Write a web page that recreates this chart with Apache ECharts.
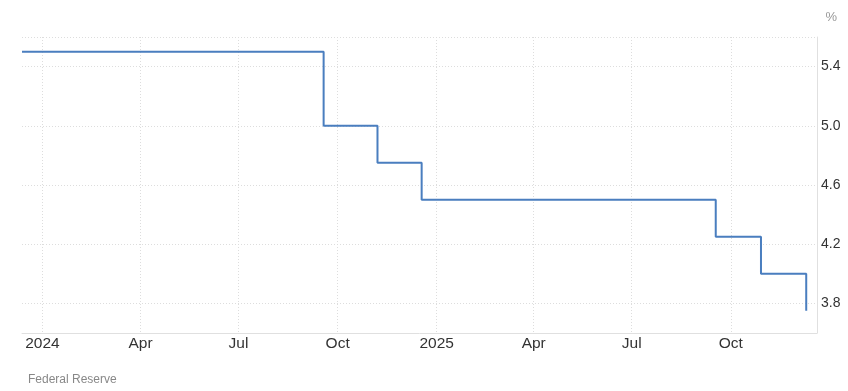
<!DOCTYPE html>
<html>
<head>
<meta charset="utf-8">
<script src="https://cdn.jsdelivr.net/npm/echarts@6/dist/echarts.min.js"></script>
<style>
html,body{margin:0;padding:0;background:#fff;}
#chart{width:848px;height:391px;}
</style>
</head>
<body>
<div id="chart"></div>
<script>
// Data: Federal funds target rate (upper bound), step changes
const changeDates = ['2023-12-13', '2024-09-18', '2024-11-07', '2024-12-18', '2025-09-17', '2025-10-29', '2025-12-10'];
const rateValues = [5.5, 5.0, 4.75, 4.5, 4.25, 4.0, 3.75];
const xTickDates = ['2024-01-01', '2024-04-01', '2024-07-01', '2024-10-01', '2025-01-01', '2025-04-01', '2025-07-01', '2025-10-01'];
const xTickLabels = ['2024', 'Apr', 'Jul', 'Oct', '2025', 'Apr', 'Jul', 'Oct'];
const yTickValues = [3.8, 4.2, 4.6, 5.0, 5.4];
const yGridTop = 5.6;
const yMin = 3.6;
const xMinDate = '2023-12-13';
const xMaxDate = '2025-12-20';

function ts(s) { const p = s.split('-').map(Number); return Date.UTC(p[0], p[1] - 1, p[2]); }

const seriesData = changeDates.map((d, i) => [ts(d), rateValues[i]]);
const xTicks = xTickDates.map(ts);
const labelMap = {};
xTicks.forEach((t, i) => { labelMap[t] = xTickLabels[i]; });

const chart = echarts.init(document.getElementById('chart'), null, { renderer: 'canvas' });
const font = 'Arial, "Liberation Sans", Helvetica, sans-serif';
chart.setOption({
  animation: false,
  backgroundColor: '#ffffff',
  textStyle: { fontFamily: font },
  title: [
    { text: '%', right: 6, top: 6, padding: 5, textStyle: { fontSize: 13, fontWeight: 'normal', color: '#999999', fontFamily: font } },
    { text: 'Federal Reserve', left: 23, top: 369, padding: 5, textStyle: { fontSize: 12, fontWeight: 'normal', color: '#888888', fontFamily: font } }
  ],
  grid: { left: 22, right: 31, top: 37, bottom: 58, containLabel: false },
  xAxis: {
    type: 'value',
    min: ts(xMinDate),
    max: ts(xMaxDate),
    axisLine: { show: true, lineStyle: { color: '#e0e0e0', width: 1 } },
    axisTick: { show: false, customValues: xTicks },
    axisLabel: {
      customValues: xTicks,
      margin: 3,
      fontSize: 15.5,
      color: '#333333',
      fontFamily: font,
      formatter: function (v) { return labelMap[v] !== undefined ? labelMap[v] : ''; }
    },
    splitLine: { show: true, lineStyle: { color: '#dddddd', type: [1, 2], width: 1 } }
  },
  yAxis: {
    type: 'value',
    position: 'right',
    min: yMin,
    max: yGridTop,
    axisLine: { show: true, lineStyle: { color: '#e0e0e0', width: 1 } },
    axisTick: { show: false, customValues: yTickValues.concat([yGridTop]) },
    axisLabel: {
      customValues: yTickValues,
      margin: 4,
      fontSize: 14,
      color: '#333333',
      fontFamily: font,
      formatter: function (v) { return v.toFixed(1); }
    },
    splitLine: { show: true, lineStyle: { color: '#dddddd', type: [1, 2], width: 1 } }
  },
  series: [{
    type: 'line',
    step: 'end',
    data: seriesData,
    showSymbol: false,
    symbol: 'none',
    lineStyle: { color: '#4a7ebf', width: 2 },
    itemStyle: { color: '#4a7ebf' }
  }]
});
</script>
</body>
</html>
